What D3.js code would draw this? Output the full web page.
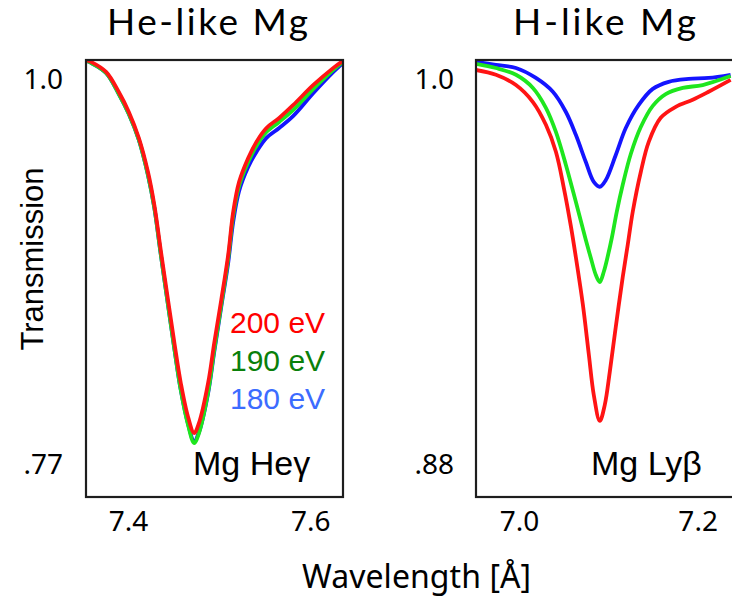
<!DOCTYPE html>
<html>
<head>
<meta charset="utf-8">
<script src="https://cdn.jsdelivr.net/npm/d3@7"></script>
<style>
  html, body { margin: 0; padding: 0; background: #fff; }
  svg { display: block; }
</style>
</head>
<body>
<svg id="chart" width="732" height="596"></svg>
<script>
// ---------- DATA ----------
const panelTitles = ["He-like Mg", "H-like Mg"];
const lineLabels = ["Mg He\u03b3", "Mg Ly\u03b2"];
const seriesNames = ["200 eV", "190 eV", "180 eV"];

// He-like Mg (He-gamma), wavelength in Angstrom
const heWave = [7.354, 7.3595, 7.376, 7.390, 7.401, 7.412, 7.422, 7.429, 7.436, 7.444, 7.451, 7.458, 7.466, 7.4727, 7.478, 7.488, 7.4947, 7.5024, 7.510, 7.5155, 7.522, 7.532, 7.541, 7.552, 7.566, 7.5815, 7.6035, 7.6254, 7.636];
const heT200 = [1.0119, 1.0108, 1.0048, 0.9928, 0.9809, 0.9653, 0.9450, 0.9253, 0.8984, 0.8686, 0.8429, 0.8190, 0.7987, 0.7891, 0.7951, 0.8190, 0.8429, 0.8686, 0.8955, 0.9211, 0.9391, 0.9534, 0.9630, 0.9713, 0.9773, 0.9851, 0.9970, 1.0072, 1.0114];
const heT190 = [1.0114, 1.0102, 1.0042, 0.9916, 0.9797, 0.9642, 0.9432, 0.9235, 0.8960, 0.8656, 0.8393, 0.8148, 0.7939, 0.7831, 0.7891, 0.8136, 0.8387, 0.8656, 0.8931, 0.9188, 0.9367, 0.9510, 0.9606, 0.9689, 0.9749, 0.9821, 0.9946, 1.0060, 1.0108];
const heT180 = [1.0114, 1.0102, 1.0042, 0.9916, 0.9797, 0.9642, 0.9432, 0.9235, 0.8960, 0.8656, 0.8393, 0.8148, 0.7945, 0.7843, 0.7897, 0.8130, 0.8375, 0.8644, 0.8907, 0.9152, 0.9337, 0.9480, 0.9570, 0.9654, 0.9713, 0.9785, 0.9922, 1.0048, 1.0102];

// H-like Mg (Ly-beta)
const lyWave200 = [6.952, 6.9743, 6.9967, 7.0157, 7.0302, 7.0414, 7.0503, 7.0581, 7.0637, 7.0716, 7.0783, 7.0838, 7.0905, 7.0961, 7.1017, 7.1084, 7.1162, 7.1218, 7.1274, 7.1364, 7.1453, 7.1587, 7.1755, 7.1945, 7.2123, 7.2369];
const lyT200    = [1.0031, 1.0016, 0.9984, 0.9931, 0.9860, 0.9776, 0.9663, 0.9545, 0.9448, 0.9299, 0.9143, 0.9018, 0.8937, 0.8987, 0.9090, 0.9230, 0.9386, 0.9486, 0.9589, 0.9713, 0.9807, 0.9882, 0.9916, 0.9938, 0.9963, 1.0000];
const lyWave190 = [6.952, 6.9743, 6.9967, 7.0157, 7.0302, 7.0414, 7.0526, 7.0637, 7.0749, 7.0805, 7.0861, 7.0905, 7.0950, 7.0995, 7.1040, 7.1095, 7.1162, 7.1252, 7.1364, 7.1498, 7.1643, 7.1833, 7.2056, 7.2369];
const lyT190    = [1.0050, 1.0037, 1.0016, 0.9975, 0.9913, 0.9838, 0.9735, 0.9620, 0.9501, 0.9445, 0.9392, 0.9370, 0.9402, 0.9451, 0.9508, 0.9589, 0.9673, 0.9769, 0.9853, 0.9919, 0.9956, 0.9975, 0.9984, 1.0012];
const lyWave180 = [6.952, 6.9743, 6.9967, 7.0190, 7.0380, 7.0526, 7.0637, 7.0749, 7.0838, 7.0905, 7.0973, 7.1084, 7.1196, 7.1341, 7.1498, 7.1676, 7.1900, 7.2123, 7.2369];
const lyT180    = [1.0056, 1.0047, 1.0037, 1.0006, 0.9963, 0.9900, 0.9829, 0.9744, 0.9682, 0.9667, 0.9688, 0.9766, 0.9850, 0.9922, 0.9972, 0.9994, 1.0003, 1.0006, 1.0016];

// axis ranges and ticks
const heXDomain = [7.354, 7.636];
const heYDomain = [0.7509, 1.0119];
const lyXDomain = [6.952, 7.253];
const lyYDomain = [0.8700, 1.0062];
const heXTicks = [7.4, 7.6];
const heXTickLabels = ["7.4", "7.6"];
const heYTicks = [0.77, 1.0];
const heYTickLabels = [".77", "1.0"];
const lyXTicks = [7.0, 7.2];
const lyXTickLabels = ["7.0", "7.2"];
const lyYTicks = [0.88, 1.0];
const lyYTickLabels = [".88", "1.0"];

// ---------- STYLE ----------
const lineColors = ["#ff1414", "#1ee61e", "#1414ff"];
const textColors = ["#ff0000", "#0a800a", "#3c6cff"];
const humanist = "'Noto Sans', 'Open Sans', sans-serif";
const titleFont = "Lato, 'Noto Sans', sans-serif";
const arial = "'Liberation Sans', Arial, sans-serif";

const svg = d3.select("#chart");
svg.append("rect").attr("width", 732).attr("height", 596).attr("fill", "#fff");

// widen a centred text slightly to a target width with letter-spacing
function fitWidth(sel, cx, target) {
  const n = sel.text().length;
  const natural = sel.node().getComputedTextLength();
  const ls = Math.max(0, (target - natural) / Math.max(1, n - 1));
  sel.attr("letter-spacing", ls).attr("x", cx + ls / 2);
}

const panels = [
  { x0: 86, x1: 343, x1Frame: 343, xDomain: heXDomain, yDomain: heYDomain,
    xTicks: heXTicks, xLabels: heXTickLabels, yTicks: heYTicks, yLabels: heYTickLabels,
    series: [ {w: heWave, t: heT180, c: 2}, {w: heWave, t: heT190, c: 1}, {w: heWave, t: heT200, c: 0} ],
    title: panelTitles[0], titleX: 207.5, titleLen: 201, lineLabel: lineLabels[0], lineLabelX: 193, yPad: 23 },
  { x0: 476, x1: 745, x1Frame: 745, xDomain: lyXDomain, yDomain: lyYDomain,
    xTicks: lyXTicks, xLabels: lyXTickLabels, yTicks: lyYTicks, yLabels: lyYTickLabels,
    series: [ {w: lyWave180, t: lyT180, c: 2}, {w: lyWave190, t: lyT190, c: 1}, {w: lyWave200, t: lyT200, c: 0} ],
    title: panelTitles[1], titleX: 604.5, titleLen: 183, lineLabel: lineLabels[1], lineLabelX: 591, yPad: 22 }
];

const frameTop = 60, frameBottom = 497;

panels.forEach((p, i) => {
  const x = d3.scaleLinear().domain(p.xDomain).range([p.x0, p.x1]);
  const y = d3.scaleLinear().domain(p.yDomain).range([frameBottom, frameTop]);
  const g = svg.append("g");

  const clipId = "clip" + i;
  svg.append("clipPath").attr("id", clipId)
    .append("rect").attr("x", p.x0).attr("y", frameTop).attr("width", p.x1 - p.x0).attr("height", frameBottom - frameTop);

  // lines
  const line = d3.line().x(d => x(d[0])).y(d => y(d[1])).curve(d3.curveCatmullRom.alpha(0.5));
  const lg = g.append("g").attr("clip-path", `url(#${clipId})`);
  p.series.forEach(s => {
    const pts = s.w.map((w, k) => [w, s.t[k]]);
    lg.append("path").datum(pts).attr("d", line)
      .attr("fill", "none").attr("stroke", lineColors[s.c])
      .attr("stroke-width", 3.8).attr("stroke-linejoin", "round");
  });

  // frame
  g.append("rect").attr("x", p.x0).attr("y", frameTop)
    .attr("width", p.x1Frame - p.x0).attr("height", frameBottom - frameTop)
    .attr("fill", "none").attr("stroke", "#1e1e1e").attr("stroke-width", 2.2);

  // axes
  const xAxis = d3.axisBottom(x).tickValues(p.xTicks).tickSize(0).tickPadding(14)
    .tickFormat((d, k) => p.xLabels[k]);
  const xa = g.append("g").attr("transform", `translate(0,${frameBottom})`).call(xAxis);
  xa.select(".domain").remove();
  xa.selectAll("text").attr("font-family", humanist).attr("font-size", 28).attr("fill", "#000");

  const yAxis = d3.axisLeft(y).tickValues(p.yTicks).tickSize(0).tickPadding(p.yPad)
    .tickFormat((d, k) => p.yLabels[k]);
  const ya = g.append("g").attr("transform", `translate(${p.x0},0)`).call(yAxis);
  ya.select(".domain").remove();
  ya.selectAll("text").attr("font-family", humanist).attr("font-size", 28).attr("fill", "#000");

  // title
  const t = g.append("text").attr("x", p.titleX).attr("y", 35).attr("text-anchor", "middle")
    .attr("font-family", titleFont).attr("font-size", 37)
    .text(p.title);
  fitWidth(t, p.titleX, p.titleLen);

  // line label
  g.append("text").attr("x", p.lineLabelX).attr("y", 475)
    .attr("font-family", arial).attr("font-size", 34).attr("fill", "#000")
    .text(p.lineLabel);
});

// legend (left panel)
seriesNames.forEach((n, k) => {
  svg.append("text").attr("x", 230).attr("y", 333 + k * 38)
    .attr("font-family", arial).attr("font-size", 30).attr("fill", textColors[k])
    .text(n);
});

// axis titles
svg.append("text").attr("transform", "translate(43,259) rotate(-90)")
  .attr("text-anchor", "middle").attr("font-family", arial).attr("font-size", 31)
  .text("Transmission");

const xt = svg.append("text").attr("x", 416.5).attr("y", 588).attr("text-anchor", "middle")
  .attr("font-family", humanist).attr("font-size", 32)
  .text("Wavelength [\u00c5]");
fitWidth(xt, 416.5, 229);
</script>
</body>
</html>
